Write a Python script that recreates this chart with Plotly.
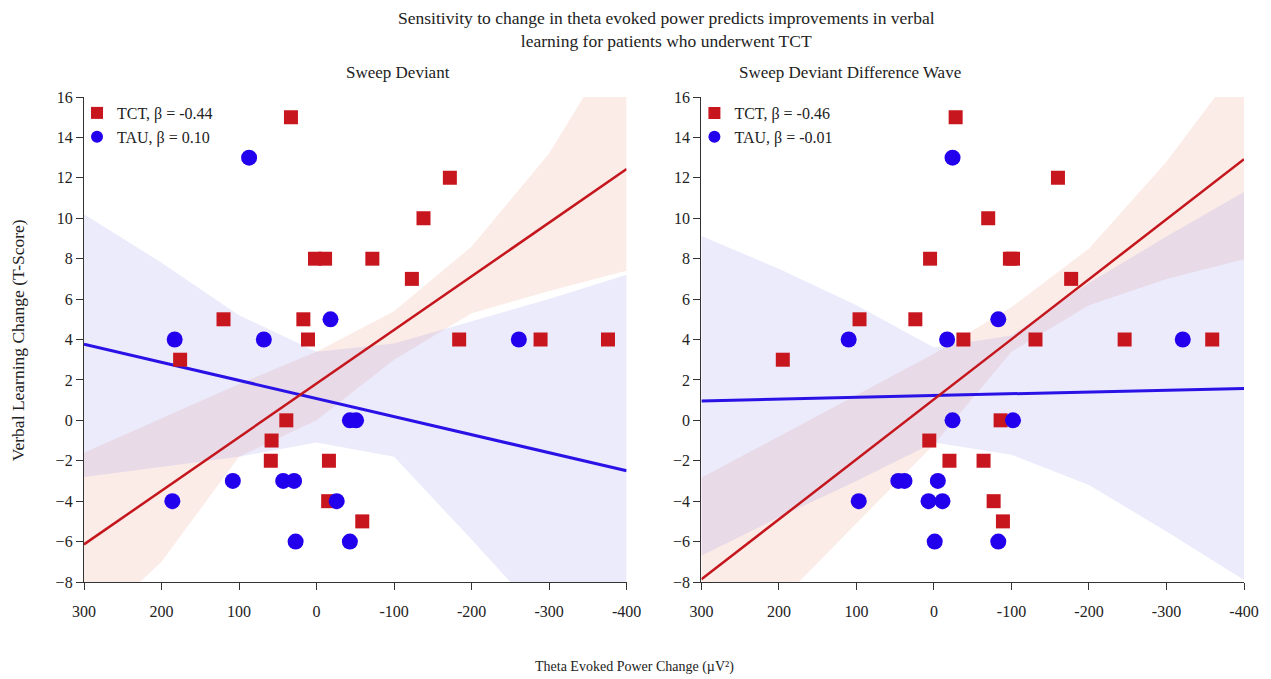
import plotly.graph_objects as go

# ---------------- data ----------------
# Panel 1: Sweep Deviant
tct1_x = [33, 2, -11, -72, 120, 17, 11, -172, -138, -123, -184, -289, -376, 176, 39, 58, 59, -16, -15, -59]
tct1_y = [15, 8, 8, 8, 5, 5, 4, 12, 10, 7, 4, 4, 4, 3, 0, -1, -2, -2, -4, -5]
tau1_x = [87, 183, 68, -18, -261, -43, -51, 108, 43, 29, 186, -26, 27, -43]
tau1_y = [13, 4, 4, 5, 4, 0, 0, -3, -3, -3, -4, -4, -6, -6]

# Panel 2: Sweep Deviant Difference Wave
tct2_x = [-28, -160, -70, 5, -98, -102, -177, 96, 24, -38, -131, -246, -359, 195, -86, 6, -20, -64, -77, -89]
tct2_y = [15, 12, 10, 8, 8, 8, 7, 5, 5, 4, 4, 4, 4, 3, 0, -1, -2, -2, -4, -5]
tau2_x = [-24, -83, 110, -17, -321, -24, -102, 46, 38, -5, 97, 7, -11, -1, -83]
tau2_y = [13, 5, 4, 4, 4, 0, 0, -3, -3, -3, -4, -4, -4, -6, -6]

# fitted lines (intercept, slope)
tct1_fit = (1.82, -0.02653)
tau1_fit = (1.08, 0.00894)
tct2_fit = (1.04, -0.0297)
tau2_fit = (1.226, -0.000886)

# confidence bands read at these x positions
band_x = [300, 200, 100, 0, -100, -200, -300, -400]
tct1_upper = [-1.6, 0.1, 1.8, 3.4, 5.4, 8.6, 13.2, 19.5]
tct1_lower = [-10.6, -7.0, -1.8, 0.0, 3.0, 5.3, 6.4, 7.4]
tau1_upper = [10.2, 7.8, 5.2, 3.4, 3.8, 4.9, 6.0, 7.2]
tau1_lower = [-2.8, -2.3, -1.8, -1.1, -1.8, -5.9, -10.1, -14.3]

tct2_upper = [-2.84, -0.8, 1.24, 3.3, 5.6, 8.5, 12.8, 17.9]
tct2_lower = [-12.9, -9.0, -5.1, -1.2, 3.4, 5.7, 7.0, 7.97]
tau2_upper = [9.12, 7.5, 5.7, 3.6, 4.2, 6.8, 9.1, 11.3]
tau2_lower = [-6.7, -4.8, -3.0, -1.1, -1.7, -3.2, -5.5, -7.9]

x_ticks = [300, 200, 100, 0, -100, -200, -300, -400]
y_ticks = [-8, -6, -4, -2, 0, 2, 4, 6, 8, 10, 12, 14, 16]
legend1 = ["TCT, β = -0.44", "TAU, β = 0.10"]
legend2 = ["TCT, β = -0.46", "TAU, β = -0.01"]

# ---------------- style ----------------
FONT = "Liberation Serif, Times New Roman, serif"
TXT = "#222"
RED = "#C8161E"
BLUE = "#2200EE"
RED_LINE = "#C4161C"
BLUE_LINE = "#2A12E6"
RED_FILL = "rgba(225,130,100,0.15)"
BLUE_FILL = "rgba(100,90,230,0.12)"

fig = go.Figure()

def add_panel(xa, ya, leg, tx, ty, ux, uy, tfit, ufit, tu, tl, uu, ul, names):
    # bands
    for up, lo, col in [(tu, tl, RED_FILL), (uu, ul, BLUE_FILL)]:
        fig.add_trace(go.Scatter(
            x=band_x + band_x[::-1], y=up + lo[::-1], fill="toself",
            fillcolor=col, line=dict(width=0), mode="lines",
            hoverinfo="skip", showlegend=False, xaxis=xa, yaxis=ya))
    # fit lines
    xr = [x_ticks[0], x_ticks[-1]]
    for fit, col, w in [(ufit, BLUE_LINE, 3), (tfit, RED_LINE, 2.5)]:
        fig.add_trace(go.Scatter(
            x=xr, y=[fit[0] + fit[1] * v for v in xr], mode="lines",
            line=dict(color=col, width=w), showlegend=False,
            hoverinfo="skip", xaxis=xa, yaxis=ya))
    # points
    fig.add_trace(go.Scatter(
        x=tx, y=ty, mode="markers", name=names[0],
        marker=dict(symbol="square", size=14, color=RED),
        xaxis=xa, yaxis=ya, legend=leg))
    fig.add_trace(go.Scatter(
        x=ux, y=uy, mode="markers", name=names[1],
        marker=dict(symbol="circle", size=16, color=BLUE),
        xaxis=xa, yaxis=ya, legend=leg))

add_panel("x", "y", "legend", tct1_x, tct1_y, tau1_x, tau1_y, tct1_fit, tau1_fit,
          tct1_upper, tct1_lower, tau1_upper, tau1_lower, legend1)
add_panel("x2", "y2", "legend2", tct2_x, tct2_y, tau2_x, tau2_y, tct2_fit, tau2_fit,
          tct2_upper, tct2_lower, tau2_upper, tau2_lower, legend2)

PW = 1163.0
PH = 485.0
d1 = [0, 544 / PW]
d2 = [619 / PW, 1]

xax = dict(range=[300, -400], tickvals=x_ticks, ticktext=[str(v) for v in x_ticks],
           showline=True, linecolor="#333", linewidth=1.3, ticks="outside", ticklen=7,
           tickcolor="#333", showgrid=False, zeroline=False,
           tickfont=dict(family=FONT, size=16, color=TXT), ticklabelstandoff=8)
yax = dict(range=[-8, 16], tickvals=y_ticks, showline=True, linecolor="#333",
           linewidth=1.3, ticks="outside", ticklen=7, tickcolor="#333",
           showgrid=False, zeroline=False,
           tickfont=dict(family=FONT, size=16, color=TXT))

leg_common = dict(yanchor="top", xanchor="left", bgcolor="rgba(0,0,0,0)",
                  font=dict(family=FONT, size=16, color=TXT),
                  tracegroupgap=0, itemsizing="constant")

fig.update_layout(
    width=1271, height=679,
    paper_bgcolor="white", plot_bgcolor="white",
    margin=dict(l=84, r=24, t=97, b=97),
    xaxis=dict(domain=d1, anchor="y", **xax),
    yaxis=dict(domain=[0, 1], anchor="x", **yax),
    xaxis2=dict(domain=d2, anchor="y2", **xax),
    yaxis2=dict(domain=[0, 1], anchor="x2", **yax),
    legend=dict(x=-7 / PW, y=1 + 1 / PH, **leg_common),
    legend2=dict(x=d2[0] - 7 / PW, y=1 + 1 / PH, **leg_common),
    showlegend=True,
)

fig.add_annotation(text="Sensitivity to change in theta evoked power predicts improvements in verbal<br>learning for patients who underwent TCT",
                   xref="paper", yref="paper", x=(668 - 84) / PW, y=1 + (97 - 29) / PH,
                   showarrow=False, font=dict(family=FONT, size=17.5, color=TXT),
                   xanchor="center", yanchor="middle", align="center")
fig.add_annotation(text="Sweep Deviant", xref="paper", yref="paper",
                   x=(345 - 84) / PW, y=1 + (97 - 73) / PH, showarrow=False,
                   font=dict(family=FONT, size=17, color=TXT), yanchor="middle")
fig.add_annotation(text="Sweep Deviant Difference Wave", xref="paper", yref="paper",
                   x=(965 - 84) / PW, y=1 + (97 - 73) / PH, showarrow=False,
                   font=dict(family=FONT, size=17, color=TXT), yanchor="middle")
fig.add_annotation(text="Verbal Learning Change (T-Score)", xref="paper", yref="paper",
                   x=(18 - 84) / PW, y=(582 - 340) / PH, textangle=-90, showarrow=False,
                   font=dict(family=FONT, size=17.5, color=TXT), xanchor="center", yanchor="middle")
fig.add_annotation(text="Theta Evoked Power Change (µV²)", xref="paper", yref="paper",
                   x=(636 - 84) / PW, y=-(667 - 582) / PH, showarrow=False,
                   font=dict(family=FONT, size=14, color=TXT), xanchor="center", yanchor="middle")

fig.write_html("out.html", config={"displayModeBar": False},
               post_script="document.body.style.margin='0px';")
